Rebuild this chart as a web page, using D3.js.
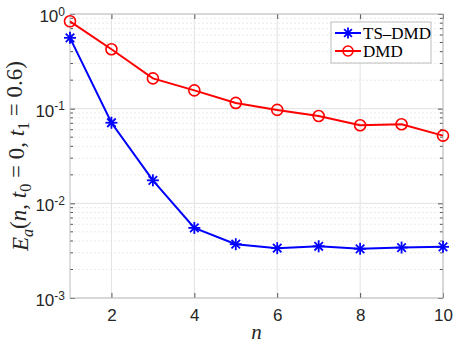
<!DOCTYPE html>
<html>
<head>
<meta charset="utf-8">
<script src="https://cdn.jsdelivr.net/npm/d3@7"></script>
<style>
body { margin: 0; background: #fff; }
</style>
</head>
<body>
<script>
var n = [1, 2, 3, 4, 5, 6, 7, 8, 9, 10];
var tsdmd = [0.56, 0.071, 0.0175, 0.0055, 0.0037, 0.00336, 0.00352, 0.00331, 0.00341, 0.00347];
var dmd = [0.837, 0.424, 0.209, 0.156, 0.115, 0.097, 0.0837, 0.0668, 0.0684, 0.0519];
var xTicks = [2, 4, 6, 8, 10];
var yTicks = [1e-3, 1e-2, 1e-1, 1];
var seriesNames = ["TS\u2013DMD", "DMD"];

var margin = {top: 14, right: 10, bottom: 47, left: 70},
	width = 453 - margin.left - margin.right,
	height = 345 - margin.top - margin.bottom;

var sans = "'Liberation Sans', Arial, sans-serif",
	serif = "'Liberation Serif', 'Times New Roman', serif";

var svg = d3.select("body").append("svg")
	.attr("width", 453)
	.attr("height", 345)
	.append("g")
	.attr("transform", "translate(" + margin.left + "," + margin.top + ")");

var x = d3.scaleLinear().domain([1, 10]).range([0, width]);
var y = d3.scaleLog().domain([1e-3, 1]).range([height, 0]);

// grid
var minor = [];
[1e-3, 1e-2, 1e-1].forEach(function(d) {
	for (var k = 2; k <= 9; k++) minor.push(d * k);
});
svg.selectAll(".minor").data(minor).enter().append("line")
	.attr("x1", 0).attr("x2", width)
	.attr("y1", function(d) { return y(d); }).attr("y2", function(d) { return y(d); })
	.attr("stroke", "#e4e4e4").attr("stroke-dasharray", "2,2").attr("stroke-width", 0.8);
svg.selectAll(".ygrid").data(yTicks).enter().append("line")
	.attr("x1", 0).attr("x2", width)
	.attr("y1", function(d) { return y(d); }).attr("y2", function(d) { return y(d); })
	.attr("stroke", "#e2e2e2").attr("stroke-width", 1);
svg.selectAll(".xgrid").data(xTicks).enter().append("line")
	.attr("y1", 0).attr("y2", height)
	.attr("x1", function(d) { return x(d); }).attr("x2", function(d) { return x(d); })
	.attr("stroke", "#e2e2e2").attr("stroke-width", 1);

// axes (ticks inward)
var axisColor = "#262626";
function styleAxis(g) {
	g.select(".domain").remove();
	g.selectAll(".tick line").attr("stroke", "#555");
	g.selectAll(".tick text").attr("fill", axisColor)
		.attr("font-family", sans).attr("font-size", 17);
}
svg.append("g").attr("transform", "translate(0," + height + ")")
	.call(d3.axisBottom(x).tickValues(xTicks).tickSize(-5).tickPadding(11).tickFormat(d3.format("d")))
	.call(styleAxis);
svg.append("g")
	.call(d3.axisTop(x).tickValues(xTicks).tickSize(-5).tickFormat(""))
	.call(styleAxis);
var yAxis = svg.append("g")
	.call(d3.axisLeft(y).tickValues(yTicks).tickSize(-5).tickFormat(""))
	.call(styleAxis);
svg.append("g").attr("transform", "translate(" + width + ",0)")
	.call(d3.axisRight(y).tickValues(yTicks).tickSize(-5).tickFormat(""))
	.call(styleAxis);
// minor y ticks
[0, width].forEach(function(xx, i) {
	svg.selectAll(".mt" + i).data(minor).enter().append("line")
		.attr("x1", xx).attr("x2", xx + (i ? -3 : 3))
		.attr("y1", function(d) { return y(d); }).attr("y2", function(d) { return y(d); })
		.attr("stroke", "#555");
});

yAxis.selectAll(".tick text").each(function(d) {
	var t = d3.select(this);
	t.attr("x", -5).attr("dy", "0.45em").attr("font-size", 17);
	t.append("tspan").text("10");
	t.append("tspan").attr("dy", "-0.55em").attr("font-size", 12).text(Math.round(Math.log10(d)));
});

svg.append("rect").attr("width", width).attr("height", height)
	.attr("fill", "none").attr("stroke", "#bdbdbd").attr("stroke-width", 1);

// lines
var line = d3.line()
	.x(function(d, i) { return x(n[i]); })
	.y(function(d) { return y(d); });

svg.append("path").datum(tsdmd).attr("d", line)
	.attr("fill", "none").attr("stroke", "#0000ff").attr("stroke-width", 2);
svg.append("path").datum(dmd).attr("d", line)
	.attr("fill", "none").attr("stroke", "#ff0000").attr("stroke-width", 2);

function star(g, cx, cy, r) {
	[0, 45, 90, 135].forEach(function(a) {
		var rad = a * Math.PI / 180;
		g.append("line")
			.attr("x1", cx - r * Math.cos(rad)).attr("y1", cy - r * Math.sin(rad))
			.attr("x2", cx + r * Math.cos(rad)).attr("y2", cy + r * Math.sin(rad))
			.attr("stroke", "#0000ff").attr("stroke-width", 1.8);
	});
}
var stars = svg.append("g");
tsdmd.forEach(function(d, i) { star(stars, x(n[i]), y(d), 6); });

svg.selectAll(".circ").data(dmd).enter().append("circle")
	.attr("cx", function(d, i) { return x(n[i]); })
	.attr("cy", function(d) { return y(d); })
	.attr("r", 5.5)
	.attr("fill", "none").attr("stroke", "#ff0000").attr("stroke-width", 1.6);

// legend
var lg = svg.append("g").attr("transform", "translate(" + (331 - margin.left) + "," + (22 - margin.top) + ")");
lg.append("rect").attr("width", 100).attr("height", 41)
	.attr("fill", "#fff").attr("stroke", "#bdbdbd");
seriesNames.forEach(function(name, i) {
	var yy = 11 + i * 18;
	lg.append("line").attr("x1", 4).attr("x2", 30).attr("y1", yy).attr("y2", yy)
		.attr("stroke", i ? "#ff0000" : "#0000ff").attr("stroke-width", 2);
	if (i) {
		lg.append("circle").attr("cx", 17).attr("cy", yy).attr("r", 5)
			.attr("fill", "none").attr("stroke", "#ff0000").attr("stroke-width", 1.6);
	} else {
		star(lg, 17, yy, 5.5);
	}
	lg.append("text").attr("x", 32).attr("y", yy).attr("dy", "0.35em")
		.attr("font-family", serif).attr("font-size", 17)
		.attr("fill", "#000").text(name);
});

// axis labels
svg.append("text")
	.attr("x", width / 2).attr("y", height + 41)
	.attr("text-anchor", "middle")
	.attr("font-family", serif).attr("font-style", "italic").attr("font-size", 21)
	.attr("fill", axisColor).text("n");

var yl = svg.append("text")
	.attr("transform", "translate(" + (-42) + "," + (height / 2) + ") rotate(-90)")
	.attr("text-anchor", "middle")
	.attr("font-family", serif).attr("font-size", 23)
	.attr("fill", axisColor);
yl.append("tspan").attr("font-style", "italic").text("E");
yl.append("tspan").attr("font-style", "italic").attr("font-size", 16).attr("dy", "0.3em").text("a");
yl.append("tspan").attr("dy", "-0.3em").text("(");
yl.append("tspan").attr("font-style", "italic").text("n");
yl.append("tspan").text(", ");
yl.append("tspan").attr("font-style", "italic").text("t");
yl.append("tspan").attr("font-size", 16).attr("dy", "0.3em").text("0");
yl.append("tspan").attr("dy", "-0.3em").text(" = 0, ");
yl.append("tspan").attr("font-style", "italic").text("t");
yl.append("tspan").attr("font-size", 16).attr("dy", "0.3em").text("1");
yl.append("tspan").attr("dy", "-0.3em").text(" = 0.6)");
</script>
</body>
</html>
